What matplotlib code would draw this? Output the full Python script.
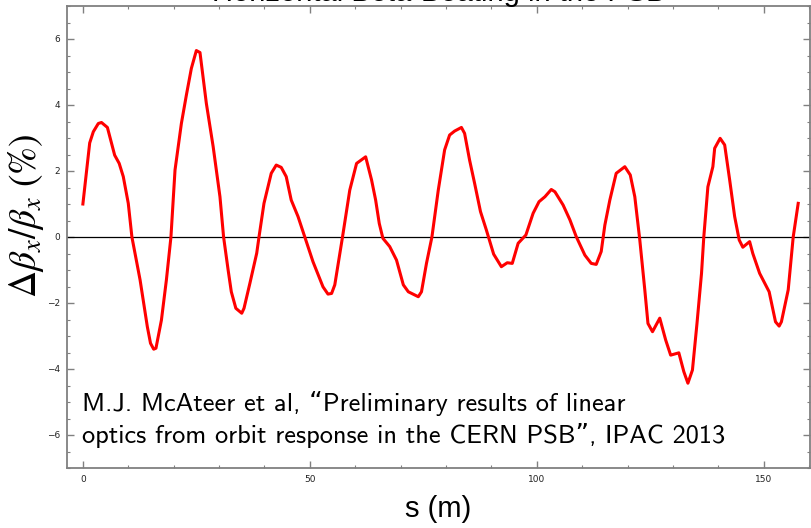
import matplotlib
matplotlib.use("Agg")
import matplotlib.pyplot as plt
from matplotlib.ticker import MultipleLocator

s_pos = [0.0, 1.5, 2.3, 3.4, 4.1, 5.4, 7.0, 8.0, 8.9, 10.0, 10.8, 12.6, 14.2, 14.9,
         15.6, 16.1, 17.3, 18.4, 19.4, 20.3, 21.7, 22.8, 23.9, 25.0, 25.8, 27.2,
         28.7, 30.2, 31.0, 32.0, 32.7, 33.7, 35.0, 35.5, 36.8, 38.3, 38.8, 39.9,
         41.5, 42.6, 43.7, 44.8, 45.9, 47.4, 48.9, 50.7, 52.9, 54.0, 54.8, 55.5,
         56.5, 57.2, 58.8, 60.3, 62.3, 63.6, 64.5, 65.3, 66.1, 67.6, 69.1, 70.6,
         71.7, 73.9, 74.6, 75.7, 76.9, 78.3, 79.7, 80.8, 81.9, 83.4, 84.1, 85.2,
         86.3, 87.6, 88.9, 90.5, 92.2, 93.5, 94.6, 95.9, 97.6, 99.2, 100.5, 101.8,
         103.2, 104.0, 105.8, 107.3, 108.7, 110.6, 112.0, 113.1, 114.2, 115.0,
         116.1, 117.5, 119.4, 120.6, 121.6, 122.7, 123.8, 124.5, 125.5, 127.1,
         128.4, 129.5, 131.3, 132.4, 133.3, 134.3, 135.3, 136.3, 136.8, 137.7,
         138.8, 139.2, 140.4, 141.4, 142.5, 143.6, 144.6, 145.4, 146.9, 147.6,
         149.1, 151.2, 152.6, 153.4, 153.9, 155.4, 156.5, 157.6]
dbeta = [1.0, 2.85, 3.19, 3.44, 3.47, 3.32, 2.48, 2.23, 1.83, 1.02, 0.0, -1.30, -2.72,
         -3.22, -3.40, -3.37, -2.52, -1.30, 0.0, 2.03, 3.44, 4.30, 5.11, 5.65, 5.59,
         4.05, 2.74, 1.22, 0.0, -1.0, -1.66, -2.16, -2.31, -2.16, -1.40, -0.49, 0.0,
         1.02, 1.93, 2.18, 2.11, 1.83, 1.12, 0.62, 0.0, -0.75, -1.51, -1.73, -1.71,
         -1.45, -0.60, 0.0, 1.42, 2.23, 2.43, 1.73, 1.12, 0.41, -0.04, -0.29, -0.70,
         -1.45, -1.66, -1.81, -1.66, -0.80, 0.0, 1.42, 2.64, 3.09, 3.21, 3.32, 3.14,
         2.33, 1.63, 0.77, 0.21, -0.52, -0.90, -0.78, -0.80, -0.19, 0.06, 0.72, 1.07,
         1.22, 1.44, 1.37, 0.97, 0.52, 0.01, -0.55, -0.80, -0.83, -0.44, 0.36, 1.12,
         1.93, 2.13, 1.88, 1.22, -0.09, -1.6, -2.62, -2.87, -2.46, -3.12, -3.58,
         -3.51, -4.08, -4.43, -4.03, -2.62, -1.10, 0.0, 1.52, 2.13, 2.69, 2.99, 2.79,
         1.73, 0.62, -0.09, -0.31, -0.14, -0.50, -1.10, -1.66, -2.57, -2.70, -2.57,
         -1.60, 0.0, 1.02]

title_text = "Horizontal Beta-Beating in the PSB"
note_lines = ["M.J. McAteer et al, \u201cPreliminary results of linear",
              "optics from orbit response in the CERN PSB\u201d, IPAC 2013"]

FRAME = "#808080"

fig = plt.figure(figsize=(8.12, 5.28), dpi=100)
ax = fig.add_axes([67 / 812, 1 - 468 / 528, 743 / 812, 462 / 528])

ax.plot(s_pos, dbeta, color="red", linewidth=2.2, zorder=3)
ax.axhline(0, color="black", linewidth=0.9, zorder=2)

ax.set_xlim(-3.5, 160.2)
ax.set_ylim(-7, 7)

ax.xaxis.set_major_locator(MultipleLocator(50))
ax.xaxis.set_minor_locator(MultipleLocator(10))
ax.yaxis.set_major_locator(MultipleLocator(2))
ax.yaxis.set_minor_locator(MultipleLocator(0.5))

for side in ax.spines.values():
    side.set_color(FRAME)
    side.set_linewidth(1.3)

ax.tick_params(which="both", direction="in", top=True, right=True, color=FRAME,
               labelsize=6.5, labelcolor="#222222")
ax.tick_params(which="major", length=5, width=1.0, pad=5)
ax.tick_params(which="minor", length=2.5, width=0.8)
ax.set_yticks([-6, -4, -2, 0, 2, 4, 6])
ax.set_yticklabels(["\u22126", "\u22124", "\u22122", "0", "2", "4", "6"])

ax.set_xlabel("s (m)", fontsize=21, family="Liberation Sans", labelpad=8)
ax.set_ylabel(r"$\Delta\beta_x/\beta_x\ (\%)$", fontsize=27)
ax.yaxis.label.set_math_fontfamily("stix")
ax.yaxis.set_label_coords(-0.028, 0.545)

for i, line in enumerate(note_lines):
    fig.text(82 / 812, 1 - (403 + 33 * i) / 528, line, fontsize=19,
             family=["cmss10", "DejaVu Sans"], va="center", ha="left")

# title sits mostly above the figure edge, only its lower part shows
fig.text(0.54, 1 - 0.75 / 528, title_text, fontsize=21, family="Liberation Sans",
         ha="center", va="baseline")

fig.savefig("out.png", dpi=100)
